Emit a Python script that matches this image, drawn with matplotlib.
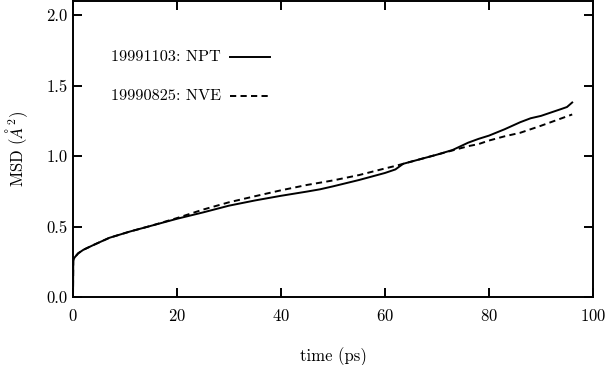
import matplotlib
matplotlib.use("Agg")
import matplotlib.pyplot as plt

# MSD curves
t_npt = [0, 0.05, 0.3, 1, 2, 4, 7, 11, 15, 20, 25, 30, 35, 40, 45, 47.5, 50, 55, 60,
         62, 63.5, 66, 70, 73, 76, 78, 80, 83, 86, 88, 90, 92, 94, 95, 96]
msd_npt = [0, 0.26, 0.28, 0.31, 0.335, 0.37, 0.42, 0.465, 0.505, 0.555, 0.60, 0.648,
           0.685, 0.718, 0.748, 0.764, 0.785, 0.83, 0.88, 0.905, 0.945, 0.97, 1.01,
           1.043, 1.095, 1.122, 1.145, 1.19, 1.24, 1.268, 1.285, 1.31, 1.335, 1.348, 1.38]

t_nve = [0, 0.05, 0.3, 1, 2, 4, 7, 11, 15, 20, 25, 30, 35, 40, 45, 50, 55, 60, 62,
         64, 66, 70, 73, 76, 78, 80, 83, 86, 90, 93, 96]
msd_nve = [0, 0.26, 0.28, 0.31, 0.335, 0.37, 0.42, 0.465, 0.505, 0.56, 0.62, 0.672,
           0.715, 0.757, 0.795, 0.827, 0.865, 0.912, 0.93, 0.95, 0.97, 1.01, 1.04,
           1.07, 1.085, 1.11, 1.14, 1.165, 1.215, 1.255, 1.295]

labels = ["19991103: NPT", "19990825: NVE"]
styles = ["-", (0, (3.2, 2.2))]

plt.rcParams["font.family"] = "cmr10"
plt.rcParams["mathtext.fontset"] = "cm"
plt.rcParams["axes.formatter.use_mathtext"] = True
plt.rcParams["font.size"] = 12

fig = plt.figure(figsize=(6.05, 3.65), dpi=100)
ax = fig.add_axes([73 / 605, 68 / 365, 520 / 605, 296 / 365])

ax.plot(t_npt, msd_npt, color="black", lw=1.4, linestyle=styles[0])
ax.plot(t_nve, msd_nve, color="black", lw=1.4, linestyle=styles[1])

ax.set_xlim(0, 100)
ax.set_ylim(0, 2.1)
ax.set_xticks([0, 20, 40, 60, 80, 100])
ax.set_yticks([0.0, 0.5, 1.0, 1.5, 2.0])
ax.set_yticklabels(["0.0", "0.5", "1.0", "1.5", "2.0"])

for s in ax.spines.values():
    s.set_linewidth(1.4)
ax.tick_params(direction="in", length=6.5, width=1.4, top=True, right=True)
ax.tick_params(axis="x", pad=8)
ax.tick_params(axis="y", pad=4)

ax.set_xlabel("time (ps)", labelpad=17)
ax.set_ylabel(r"MSD ($\AA^2$)", labelpad=12)

# gnuplot-style key: label right-aligned, sample line to its right
key_y = [0.81, 0.678]
for lab, ls, ky in zip(labels, styles, key_y):
    ax.text(0.285, ky, lab, transform=ax.transAxes, ha="right", va="center",
            fontsize=11.7)
    ax.plot([0.302, 0.379], [ky, ky], transform=ax.transAxes,
            color="black", lw=1.4, linestyle=ls)

fig.savefig("out.png", dpi=100)
